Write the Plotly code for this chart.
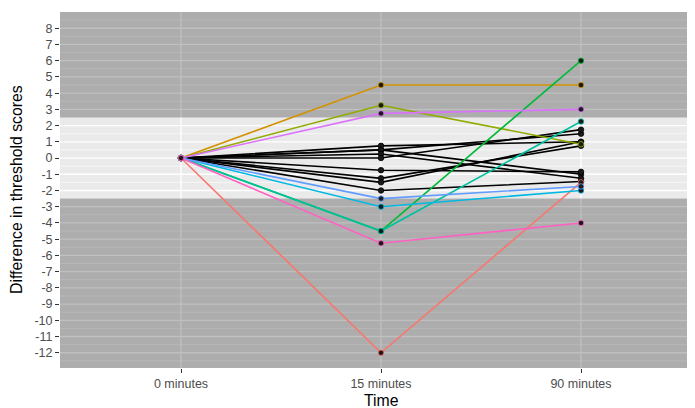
import plotly.graph_objects as go

times = ["0 minutes", "15 minutes", "90 minutes"]

# coloured subjects (ggplot hue palette, 9 colours)
colored_colors = ["#F8766D", "#D39200", "#93AA00", "#00BA38", "#00C19F",
                  "#00B9E3", "#619CFF", "#DB72FB", "#FF61C3"]
colored_15 = [-12.0, 4.5, 3.25, -4.5, -4.5, -3.0, -2.5, 2.75, -5.25]
colored_90 = [-1.5, 4.5, 0.85, 6.0, 2.25, -2.0, -1.75, 3.0, -4.0]

# black subjects
black_15 = [0.75, 0.5, 0.5, 0.25, 0.0, -0.75, -1.25, -1.5, -2.0]
black_90 = [1.0, -1.0, 1.5, -1.25, 1.75, -0.85, 0.75, 1.0, -1.45]

y_ticks = list(range(-12, 9))
band_low, band_high = -2.5, 2.5
y_range = [-12.94, 9.0]
x_range = [-0.605, 2.57]

fig = go.Figure()

def add_subject(v15, v90, color):
    fig.add_trace(go.Scatter(
        x=[0, 1, 2], y=[0, v15, v90], mode="lines+markers",
        line=dict(color=color, width=1.6),
        marker=dict(color="#1a1a1a", size=5.5, line=dict(color=color, width=0.8)),
        hoverinfo="skip", showlegend=False))

for v15, v90 in zip(black_15, black_90):
    add_subject(v15, v90, "#000000")
for c, v15, v90 in zip(colored_colors, colored_15, colored_90):
    add_subject(v15, v90, c)

dark = "#ADADAD"
light = "#EAEAEA"
dark_grid = "#C0C0C0"

shapes = []
shapes.append(dict(type="rect", xref="x domain", yref="y", x0=0, x1=1,
                   y0=band_high, y1=y_range[1], fillcolor=dark, line=dict(width=0), layer="below"))
shapes.append(dict(type="rect", xref="x domain", yref="y", x0=0, x1=1,
                   y0=y_range[0], y1=band_low, fillcolor=dark, line=dict(width=0), layer="below"))
shapes.append(dict(type="rect", xref="x domain", yref="y", x0=0, x1=1,
                   y0=band_low, y1=band_high, fillcolor=light, line=dict(width=0), layer="below"))

g = -13.0
while g <= 9.0:
    if y_range[0] < g < y_range[1]:
        major = float(g).is_integer()
        inside = band_low < g < band_high
        shapes.append(dict(type="line", xref="x domain", yref="y", x0=0, x1=1, y0=g, y1=g,
                           line=dict(color="white" if inside else dark_grid,
                                     width=1.3 if major else 0.6), layer="below"))
    g += 0.5

for xv in [0, 1, 2]:
    for (a, b, col) in [(y_range[0], band_low, dark_grid), (band_low, band_high, "white"),
                        (band_high, y_range[1], dark_grid)]:
        shapes.append(dict(type="line", xref="x", yref="y", x0=xv, x1=xv, y0=a, y1=b,
                           line=dict(color=col, width=1.3), layer="below"))

# the page body adds an 8px offset, so the figure is sized to fit the 695x408 window
fig.update_layout(
    width=687, height=400,
    margin=dict(l=52, r=0, t=4, b=40, autoexpand=False),
    paper_bgcolor="white", plot_bgcolor="rgba(0,0,0,0)",
    font=dict(family="Liberation Sans, Arial, sans-serif"),
    showlegend=False,
    shapes=shapes,
    xaxis=dict(
        tickmode="array", tickvals=[0, 1, 2], ticktext=times,
        range=x_range, showgrid=False, zeroline=False,
        ticks="outside", ticklen=4, tickcolor="#333333",
        tickfont=dict(size=12.5, color="#4D4D4D"),
    ),
    yaxis=dict(
        tickmode="array", tickvals=y_ticks, ticktext=[str(t) for t in y_ticks],
        range=y_range, showgrid=False, zeroline=False,
        ticks="outside", ticklen=4, tickcolor="#333333",
        tickfont=dict(size=12.5, color="#4D4D4D"),
    ),
    annotations=[
        dict(text="Time", xref="x", yref="paper", x=1, y=0, yshift=-32,
             xanchor="center", yanchor="middle", showarrow=False,
             font=dict(size=15.8, color="black")),
        dict(text="Difference in threshold scores", xref="paper", yref="paper",
             x=0, y=0.5, xshift=-44, textangle=-90,
             xanchor="center", yanchor="middle", showarrow=False,
             font=dict(size=15.8, color="black")),
    ],
)

fig.write_html("out.html")
